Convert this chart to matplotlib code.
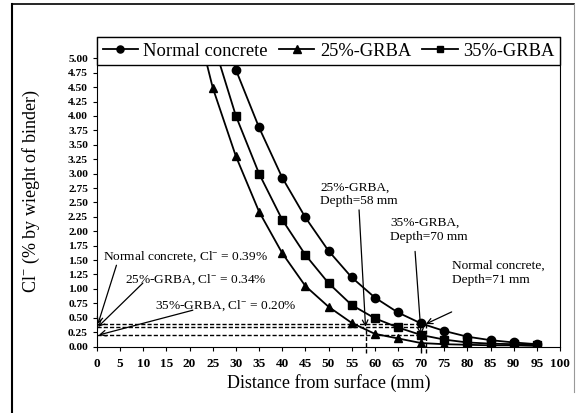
#!/usr/bin/env python3
"""Профиль хлоридов по глубине: обычный бетон и бетон с GRBA."""
import matplotlib
matplotlib.use("Agg")
import matplotlib.pyplot as plt
from matplotlib.lines import Line2D

# данные (глубина, мм -> Cl-, % от массы вяжущего)
x_normal = [25, 30, 35, 40, 45, 50, 55, 60, 65, 70, 75, 80, 85, 90, 95]
cl_normal = [6.0, 4.8, 3.8, 2.93, 2.24, 1.66, 1.2, 0.85, 0.59, 0.40, 0.27, 0.17, 0.11, 0.07, 0.04]

x_grba25 = [20, 25, 30, 35, 40, 45, 50, 55, 60, 65, 70, 75, 80, 85, 90, 95]
cl_grba25 = [6.1, 4.49, 3.3, 2.34, 1.62, 1.05, 0.69, 0.41, 0.22, 0.14, 0.06, 0.04, 0.03, 0.02, 0.02, 0.01]

x_grba35 = [25, 30, 35, 40, 45, 50, 55, 60, 65, 70, 75, 80, 85, 90, 95]
cl_grba35 = [5.3, 4.0, 3.0, 2.2, 1.59, 1.10, 0.72, 0.49, 0.33, 0.20, 0.12, 0.07, 0.05, 0.04, 0.03]

# пороговые значения и глубины
cl_limits = [0.39, 0.34, 0.20]
depths = [71, 58, 70]

plt.rcParams["font.family"] = ["Liberation Serif", "DejaVu Serif"]
plt.rcParams["mathtext.fontset"] = "custom"
plt.rcParams["mathtext.rm"] = "Liberation Serif"

fig = plt.figure(figsize=(5.78, 4.13), dpi=100)
ax = fig.add_axes([97 / 578, 1 - 346.5 / 413, (560 - 97) / 578, (346.5 - 37) / 413])

# рамка вокруг рисунка (как на скане)
fig.add_artist(Line2D([12 / 578, 12 / 578], [0, 1 - 4 / 413], color="black", lw=1.5))
fig.add_artist(Line2D([12 / 578, 574 / 578], [1 - 4 / 413, 1 - 4 / 413], color="black", lw=1.2))
fig.add_artist(Line2D([574 / 578, 574 / 578], [0.05, 1 - 4 / 413], color="#999999", lw=0.8))

kw = dict(color="black", lw=1.3, markersize=6)
ax.plot(x_normal, cl_normal, marker="o", label="Normal concrete", **kw)
ax.plot(x_grba25, cl_grba25, marker="^", label="25%-GRBA", **kw)
ax.plot(x_grba35, cl_grba35, marker="s", label="35%-GRBA", markersize=5.5, color="black", lw=1.3)

# пунктирные линии порогов
dash = dict(color="black", lw=1.0, ls=(0, (3, 1.5)))
for cl in cl_limits:
    ax.plot([0, 71 if cl == max(cl_limits) else 70], [cl, cl], **dash)
for d, cl in zip(depths, cl_limits):
    ax.plot([d, d], [-0.12, cl], clip_on=False, **dash)

ax.set_xlim(0, 100)
ax.set_ylim(0, 5.37)
ax.set_xticks(range(0, 101, 5))
ax.set_yticks([i * 0.25 for i in range(21)])
ax.set_yticklabels([f"{i * 0.25:.2f}" for i in range(21)])
ax.tick_params(axis="y", labelsize=8.2, length=3, pad=3.5)
ax.tick_params(axis="x", labelsize=9.5, length=3, pad=5)
for lab in ax.get_xticklabels() + ax.get_yticklabels():
    lab.set_fontweight("bold")

ax.set_xlabel("Distance from surface (mm)", fontsize=13, labelpad=3)
ax.set_ylabel("Cl$^{-}$ (% by wieght of binder)", fontsize=13, labelpad=19)

# подписи слева с пороговыми концентрациями
tfs = 9.6
arrow = dict(arrowstyle="->", color="black", lw=0.9, shrinkA=0, shrinkB=0)
ax.text(1.4, 1.55, "Normal concrete, Cl$^{-}$ = 0.39%", fontsize=tfs, va="center")
ax.text(6.0, 1.15, "25%-GRBA, Cl$^{-}$ = 0.34%", fontsize=tfs, va="center")
ax.text(12.5, 0.70, "35%-GRBA, Cl$^{-}$ = 0.20%", fontsize=tfs, va="center")
ax.annotate("", xy=(0.2, 0.39), xytext=(4.2, 1.41), arrowprops=arrow)
ax.annotate("", xy=(0.2, 0.34), xytext=(9.9, 1.10), arrowprops=arrow)
ax.annotate("", xy=(0.4, 0.20), xytext=(20.7, 0.63), arrowprops=arrow)

# подписи глубин
ax.text(48.2, 2.64, "25%-GRBA,\nDepth=58 mm", fontsize=tfs, va="center", linespacing=1.2)
ax.text(63.3, 2.02, "35%-GRBA,\nDepth=70 mm", fontsize=tfs, va="center", linespacing=1.2)
ax.text(76.6, 1.28, "Normal concrete,\nDepth=71 mm", fontsize=tfs, va="center", linespacing=1.2)
ax.annotate("", xy=(58, 0.34), xytext=(56.6, 2.37), arrowprops=arrow)
ax.annotate("", xy=(70, 0.20), xytext=(68.7, 1.65), arrowprops=arrow)
ax.annotate("", xy=(71, 0.39), xytext=(76.6, 0.60), arrowprops=arrow)

leg = ax.legend(loc="upper left", bbox_to_anchor=(0, 0.9, 1, 0.1), mode="expand", ncol=3,
                borderaxespad=0, fontsize=13.3, fancybox=False, framealpha=1,
                edgecolor="black", handlelength=1.9, handletextpad=0.3, columnspacing=1.0,
                borderpad=0.3, markerscale=0.85)
leg.get_frame().set_linewidth(1.0)
leg.set_zorder(5)

fig.savefig("out.png", dpi=100)
